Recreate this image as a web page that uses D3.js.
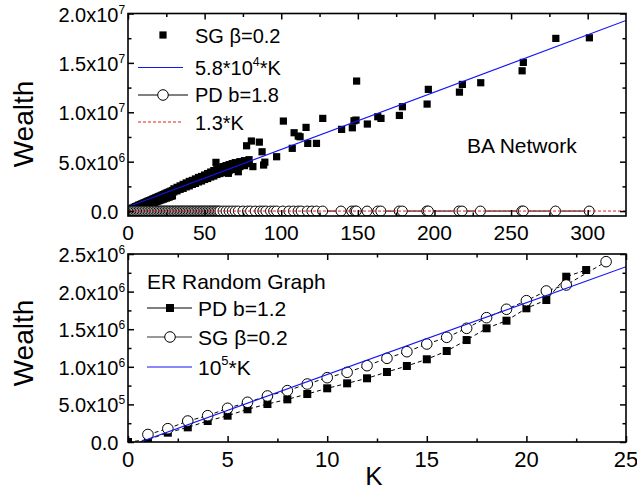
<!DOCTYPE html>
<html><head><meta charset="utf-8">
<script src="https://cdn.jsdelivr.net/npm/d3@7/dist/d3.min.js"></script>
<style>body{margin:0;background:#fff}svg text{font-family:"Liberation Sans",Arial,Helvetica,sans-serif;fill:#000}</style>
</head><body><svg id="c" width="637" height="491"></svg>
<script>
// ---------- DATA ----------
// Top panel: BA network
const topXTicks = [0, 50, 100, 150, 200, 250, 300];
const topYTicks = [0, 5e6, 1e7, 1.5e7, 2e7];
const topYLabels = ["0.0", "5.0x10^6", "1.0x10^7", "1.5x10^7", "2.0x10^7"];
// SG beta=0.2 (wealth vs degree K), band and scattered points (wealth in 1e6)
const sgK = [1,1,2,2,3,3,4,4,5,5,6,6,7,7,8,8,9,9,10,10,11,11,12,12,13,13,14,14,15,15,16,16,17,17,18,18,19,19,20,20,
  21,21,22,22,23,23,24,24,25,25,26,26,27,27,28,28,29,29,30,30,32,32,34,34,36,36,38,38,40,40,42,42,44,44,46,46,48,48,50,50,
  52,52,54,54,56,56,58,58,60,60,62,62,64,64,66,66,68,68,70,70,73,73,76,76,79,79,
  57.4,65.5,72,77.4,80.5,81.5,85.7,87.5,88.5,89.3,97,101.4,107.2,108.4,111.1,112.3,116.2,117.3,123,127.1,
  139.4,146.4,147.5,148.8,149.2,156.2,163,165.1,177.1,179.1,195.2,196,216.3,218.2,230.2,257.2,258,279.2,301.1];
const sgW = [0.02,0.12,0.07,0.21,0.12,0.30,0.17,0.38,0.23,0.45,0.28,0.52,0.33,0.60,0.39,0.66,0.45,0.73,0.50,0.80,
  0.55,0.86,0.61,0.93,0.66,1.00,0.72,1.06,0.77,1.13,0.82,1.20,0.88,1.27,0.93,1.33,0.99,1.40,1.04,1.47,
  1.10,1.53,1.15,1.60,1.21,1.67,1.26,1.74,1.32,1.81,1.37,1.88,1.43,1.94,1.49,2.01,1.54,2.08,1.95,2.25,2.05,2.40,2.20,2.55,2.30,2.70,2.45,2.85,2.55,3.00,
  2.70,3.10,2.80,3.25,2.95,3.40,3.05,3.50,3.20,3.65,3.30,3.80,3.45,3.95,3.55,4.10,3.70,4.20,3.80,4.35,
  3.90,4.50,4.00,4.60,4.10,4.70,4.20,4.80,4.35,4.90,4.50,5.00,4.60,5.10,4.80,5.20,
  4.93,3.82,3.98,6.61,7.09,4.50,6.98,6.00,4.66,4.95,5.50,9.11,6.35,7.93,7.59,7.52,8.47,6.85,6.85,9.38,
  8.27,8.43,9.14,9.21,13.16,8.81,9.55,9.38,9.68,10.56,10.83,12.32,12.04,12.82,12.99,14.20,15.05,17.48,17.54];
// PD b=1.8
const pdK = [1,2,3,4,5,6,7,8,9,10,11,12,13,14,15,16,17,18,19,20,21,22,23,24,25,26,27,28,29,30,31,32,33,34,35,36,37,38,39,40,
  41,42,43,44,45,46,47,48,49,50,51,52,53,54,55,56,57,58,59,60,62,64,66,68,70,72,75,78,80,83,86,88,90,93,95,97,101,105,108,111,113,117,120,123,127,
  139,146,148,149,156,163,165,177,179,195,196,216,218,230,257,258,279,301];
const pdW = [1,3,4,5,7,8,9,10,12,13,14,16,17,18,20,21,22,23,25,26,27,29,30,31,33,34,35,36,38,39,40,42,43,44,46,47,48,49,51,52,
  53,55,56,57,59,60,61,62,64,65,66,68,69,70,72,73,74,75,77,78,81,83,86,88,91,94,98,101,104,108,112,114,117,121,124,126,131,137,140,144,147,152,156,160,165,
  181,190,192,194,203,212,215,230,233,254,255,281,283,299,334,335,363,391];
// fitted lines (end points)
const fitTopK = [0, 325], fitTopW = [4.3e5, 1.93e7];
const linTopK = [0, 325], linTopW = [0, 423];

// Bottom panel: ER random graph (wealth in 1e6)
const botXTicks = [0, 5, 10, 15, 20, 25];
const botYTicks = [0, 5e5, 1e6, 1.5e6, 2e6, 2.5e6];
const botYLabels = ["0.0", "5.0x10^5", "1.0x10^6", "1.5x10^6", "2.0x10^6", "2.5x10^6"];
const erPdK = [0,1,2,3,4,5,6,7,8,9,10,11,12,13,14,15,16,17,18,19,20,21,22,23];
const erPdW = [0.0,0.03,0.124,0.195,0.279,0.35,0.435,0.505,0.567,0.638,0.714,0.78,0.847,0.931,1.011,1.10,1.21,1.356,1.512,1.613,1.778,1.888,2.198,2.287];
const erSgK = [1,2,3,4,5,6,7,8,9,10,11,12,13,14,15,16,17,18,19,20,21,22,24];
const erSgW = [0.10,0.177,0.279,0.35,0.448,0.528,0.612,0.683,0.771,0.855,0.927,1.015,1.113,1.201,1.303,1.392,1.512,1.653,1.765,1.879,2.008,2.088,2.398];
const fitBotK = [0.6, 25], fitBotW = [0, 2.33e6];

// ---------- DRAW ----------
const svg = d3.select("#c");
const BLUE = "#1414f5", RED = "#e02020";

function zip(a, b, s) { return a.map((v, i) => [v, b[i] * (s || 1)]); }

function panel(o) {
  const x = d3.scaleLinear().domain(o.xdom).range([o.left, o.right]);
  const y = d3.scaleLinear().domain(o.ydom).range([o.bottom, o.top]);
  const g = svg.append("g");
  const id = "clip" + o.name;
  svg.append("clipPath").attr("id", id).append("rect")
    .attr("x", o.left).attr("y", o.top).attr("width", o.right - o.left).attr("height", o.bottom - o.top);
  const plot = g.append("g").attr("clip-path", `url(#${id})`);
  const ax = g.append("g");
  const tk = (fn, sc, vals, size, tr) => {
    const a = ax.append("g").attr("transform", tr)
      .call(fn(sc).tickValues(vals).tickSize(size).tickSizeOuter(0).tickFormat(""));
    a.select(".domain").remove();
    a.selectAll("line").attr("stroke", "#000").attr("stroke-width", 1.5);
  };
  tk(d3.axisBottom, x, o.xMaj, -6, `translate(0,${o.bottom})`);
  tk(d3.axisBottom, x, o.xMin, -3.5, `translate(0,${o.bottom})`);
  tk(d3.axisTop, x, o.xMaj, -6, `translate(0,${o.top})`);
  tk(d3.axisTop, x, o.xMin, -3.5, `translate(0,${o.top})`);
  tk(d3.axisLeft, y, o.yMaj, -6, `translate(${o.left},0)`);
  tk(d3.axisLeft, y, o.yMin, -3.5, `translate(${o.left},0)`);
  tk(d3.axisRight, y, o.yMaj, -6, `translate(${o.right},0)`);
  tk(d3.axisRight, y, o.yMin, -3.5, `translate(${o.right},0)`);
  g.append("rect").attr("x", o.left).attr("y", o.top).attr("width", o.right - o.left)
    .attr("height", o.bottom - o.top).attr("fill", "none").attr("stroke", "#000").attr("stroke-width", 1.6);
  // x labels
  ax.selectAll(null).data(o.xMaj).enter().append("text")
    .attr("x", d => x(d)).attr("y", o.xLabY).attr("text-anchor", "middle")
    .attr("font-size", o.xFs).text(d => d);
  // y labels with superscript
  o.yMaj.forEach((v, i) => {
    const [m, e] = o.yLab[i].split("^");
    const yy = y(v) + 8;
    ax.append("text").attr("x", 118.5).attr("y", yy).attr("text-anchor", "end").attr("font-size", 20).text(m);
    if (e) ax.append("text").attr("x", 118.5).attr("y", yy - 8).attr("font-size", 12).text(e);
  });
  return { x, y, plot, g };
}

// ----- top panel
const T = panel({ name: "t", left: 128, right: 626, top: 13.5, bottom: 216,
  xdom: [0, 325], ydom: [-5e5, 2e7],
  xMaj: topXTicks, xMin: [25, 75, 125, 175, 225, 275],
  yMaj: topYTicks, yMin: [2.5e6, 7.5e6, 1.25e7, 1.75e7], yLab: topYLabels, xLabY: 239.5, xFs: 21 });
{
  const { x, y, plot } = T;
  const sg = zip(sgK, sgW, 1e6);
  plot.selectAll(null).data(sg).enter().append("rect")
    .attr("x", d => x(d[0]) - 3.6).attr("y", d => y(d[1]) - 3.6).attr("width", 7.2).attr("height", 7.2).attr("fill", "#000");
  const line = d3.line().x(d => x(d[0])).y(d => y(d[1]));
  plot.append("path").attr("d", line(zip(fitTopK, fitTopW))).attr("stroke", BLUE).attr("stroke-width", 1.1).attr("fill", "none");
  const pd = zip(pdK, pdW);
  plot.append("path").attr("d", line(pd)).attr("stroke", "#000").attr("stroke-width", 1).attr("fill", "none");
  plot.selectAll(null).data(pd).enter().append("circle")
    .attr("cx", d => x(d[0])).attr("cy", d => y(d[1])).attr("r", 5).attr("fill", "#fff").attr("stroke", "#000").attr("stroke-width", 1);
  plot.append("path").attr("d", line(zip(linTopK, linTopW))).attr("stroke", RED).attr("stroke-width", 1).attr("stroke-dasharray", "3,2").attr("fill", "none");
}
// ----- bottom panel
const B = panel({ name: "b", left: 128, right: 626, top: 254, bottom: 442,
  xdom: [0, 25], ydom: [0, 2.5e6],
  xMaj: botXTicks, xMin: [2.5, 7.5, 12.5, 17.5, 22.5],
  yMaj: botYTicks, yMin: [2.5e5, 7.5e5, 1.25e6, 1.75e6, 2.25e6], yLab: botYLabels, xLabY: 467, xFs: 22 });
{
  const { x, y, plot } = B;
  const line = d3.line().x(d => x(d[0])).y(d => y(d[1]));
  const pd = zip(erPdK, erPdW, 1e6), sg = zip(erSgK, erSgW, 1e6);
  plot.append("path").attr("d", line(pd)).attr("stroke", "#000").attr("stroke-width", 1).attr("stroke-dasharray", "4,3").attr("fill", "none");
  plot.append("path").attr("d", line(sg)).attr("stroke", "#000").attr("stroke-width", 1).attr("stroke-dasharray", "4,3").attr("fill", "none");
  plot.selectAll(null).data(pd).enter().append("rect")
    .attr("x", d => x(d[0]) - 4).attr("y", d => y(d[1]) - 4).attr("width", 8).attr("height", 8).attr("fill", "#000");
  plot.selectAll(null).data(sg).enter().append("circle")
    .attr("cx", d => x(d[0])).attr("cy", d => y(d[1])).attr("r", 5.3).attr("fill", "#fff").attr("stroke", "#000").attr("stroke-width", 1);
  plot.append("path").attr("d", line(zip(fitBotK, fitBotW))).attr("stroke", BLUE).attr("stroke-width", 1.1).attr("fill", "none");
}

// ----- axis titles
svg.append("text").attr("transform", "translate(33,124) rotate(-90)").attr("text-anchor", "middle").attr("font-size", 28).text("Wealth");
svg.append("text").attr("transform", "translate(33,343) rotate(-90)").attr("text-anchor", "middle").attr("font-size", 28).text("Wealth");
svg.append("text").attr("x", 374).attr("y", 485).attr("text-anchor", "middle").attr("font-size", 26).text("K");

// ----- legends
function legText(x, y, parts, fs) {
  const t = svg.append("text").attr("x", x).attr("y", y).attr("font-size", fs);
  parts.forEach(p => {
    if (p.sup) t.append("tspan").attr("font-size", fs * 0.62).attr("dy", -fs * 0.45).text(p.sup);
    else { const s = t.append("tspan").text(p.t); if (p.down) s.attr("dy", fs * 0.45); }
  });
}
// top legend
svg.append("rect").attr("x", 159.4).attr("y", 31.4).attr("width", 7.2).attr("height", 7.2).attr("fill", "#000");
legText(195, 43, [{ t: "SG β=0.2" }], 20);
svg.append("line").attr("x1", 138).attr("x2", 183).attr("y1", 67.5).attr("y2", 67.5).attr("stroke", BLUE).attr("stroke-width", 1.1);
legText(195, 75, [{ t: "5.8*10" }, { sup: "4" }, { t: "*K", down: 1 }], 20);
svg.append("line").attr("x1", 138).attr("x2", 188).attr("y1", 95).attr("y2", 95).attr("stroke", "#000").attr("stroke-width", 1);
svg.append("circle").attr("cx", 163).attr("cy", 95).attr("r", 5.3).attr("fill", "#fff").attr("stroke", "#000");
legText(195, 102, [{ t: "PD b=1.8" }], 20);
svg.append("line").attr("x1", 138).attr("x2", 183).attr("y1", 122).attr("y2", 122).attr("stroke", RED).attr("stroke-width", 1).attr("stroke-dasharray", "3,2");
legText(195, 130, [{ t: "1.3*K" }], 20);
svg.append("text").attr("x", 467).attr("y", 153).attr("font-size", 21).text("BA Network");

// bottom legend
svg.append("text").attr("x", 147).attr("y", 289).attr("font-size", 21).text("ER Random Graph");
svg.append("line").attr("x1", 147).attr("x2", 192).attr("y1", 308).attr("y2", 308).attr("stroke", "#000").attr("stroke-width", 1);
svg.append("rect").attr("x", 166).attr("y", 304).attr("width", 8).attr("height", 8).attr("fill", "#000");
legText(198, 315.5, [{ t: "PD b=1.2" }], 21);
svg.append("line").attr("x1", 147).attr("x2", 192).attr("y1", 337).attr("y2", 337).attr("stroke", "#333").attr("stroke-width", 1);
svg.append("circle").attr("cx", 170).attr("cy", 337).attr("r", 5.3).attr("fill", "#fff").attr("stroke", "#000");
legText(198, 344.5, [{ t: "SG β=0.2" }], 21);
svg.append("line").attr("x1", 147).attr("x2", 192).attr("y1", 367).attr("y2", 367).attr("stroke", BLUE).attr("stroke-width", 1.1);
legText(198, 374.5, [{ t: "10" }, { sup: "5" }, { t: "*K", down: 1 }], 21);
</script></body></html>
